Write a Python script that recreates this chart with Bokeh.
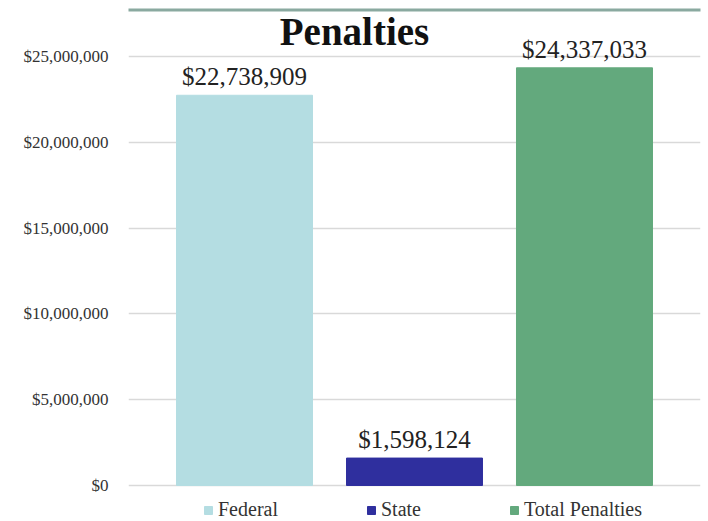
from bokeh.plotting import figure
from bokeh.models import (ColumnDataSource, FactorRange, Range1d, FixedTicker,
                          NumeralTickFormatter, Legend, LegendItem, Label, LabelSet,
                          BoxAnnotation)
from bokeh.embed import file_html
from bokeh.resources import INLINE

categories = ["Federal", "State", "Total Penalties"]
values = [22738909, 1598124, 24337033]
colors = ["#b4dde2", "#2f2f9e", "#63a97d"]
tick_values = [0, 5000000, 10000000, 15000000, 20000000, 25000000]
title_text = "Penalties"

FONT = "Liberation Serif"

src = ColumnDataSource(dict(
    cat=categories, val=values, color=colors,
    lab=["${:,}".format(v) for v in values],
))

p = figure(width=708, height=521, output_backend="svg", toolbar_location=None,
           x_range=FactorRange(factors=categories, range_padding=0.1216),
           y_range=Range1d(-2098000, 28260000),
           min_border_left=128, min_border_right=8, min_border_top=0,
           min_border_bottom=0)

r = p.vbar(x="cat", top="val", width=0.8, color="color", source=src)

labels = LabelSet(x="cat", y="val", text="lab", source=src, text_align="center",
                  text_baseline="bottom", y_offset=5, text_font=FONT,
                  text_font_size="25px", text_color="#222222")
p.add_layout(labels)

p.xaxis.visible = False
p.xgrid.visible = False
p.yaxis.ticker = FixedTicker(ticks=tick_values)
p.yaxis.formatter = NumeralTickFormatter(format="$0,0")
p.yaxis.axis_line_color = None
p.yaxis.major_tick_line_color = None
p.yaxis.minor_tick_line_color = None
p.yaxis.major_label_text_font = FONT
p.yaxis.major_label_text_font_size = "17px"
p.yaxis.major_label_text_color = "#333333"
p.yaxis.major_label_standoff = 14
p.ygrid.grid_line_color = "#d9d9d9"
p.ygrid.grid_line_width = 1.5
p.outline_line_color = None

items = [LegendItem(label=c, renderers=[r], index=i) for i, c in enumerate(categories)]
legend = Legend(items=items, orientation="horizontal", location=(75, 0),
                label_text_font=FONT, label_text_font_size="20px",
                label_text_color="#333333", glyph_width=10, glyph_height=10,
                spacing=88, padding=4, margin=0, border_line_color=None,
                background_fill_alpha=0, label_standoff=5)
p.add_layout(legend)

title = Label(x=354, y=31, x_units="canvas", y_units="canvas", text=title_text,
              text_align="center", text_baseline="middle", text_font=FONT,
              text_font_size="39px", text_font_style="bold", text_color="#111111")
p.add_layout(title)

top_rule = BoxAnnotation(left=12, right=708, top=8, bottom=11,
                         left_units="canvas", right_units="canvas",
                         top_units="canvas", bottom_units="canvas",
                         fill_color="#8aa9a0", fill_alpha=1.0, line_color=None)
p.add_layout(top_rule)

open("out.html", "w").write(file_html(p, INLINE))
